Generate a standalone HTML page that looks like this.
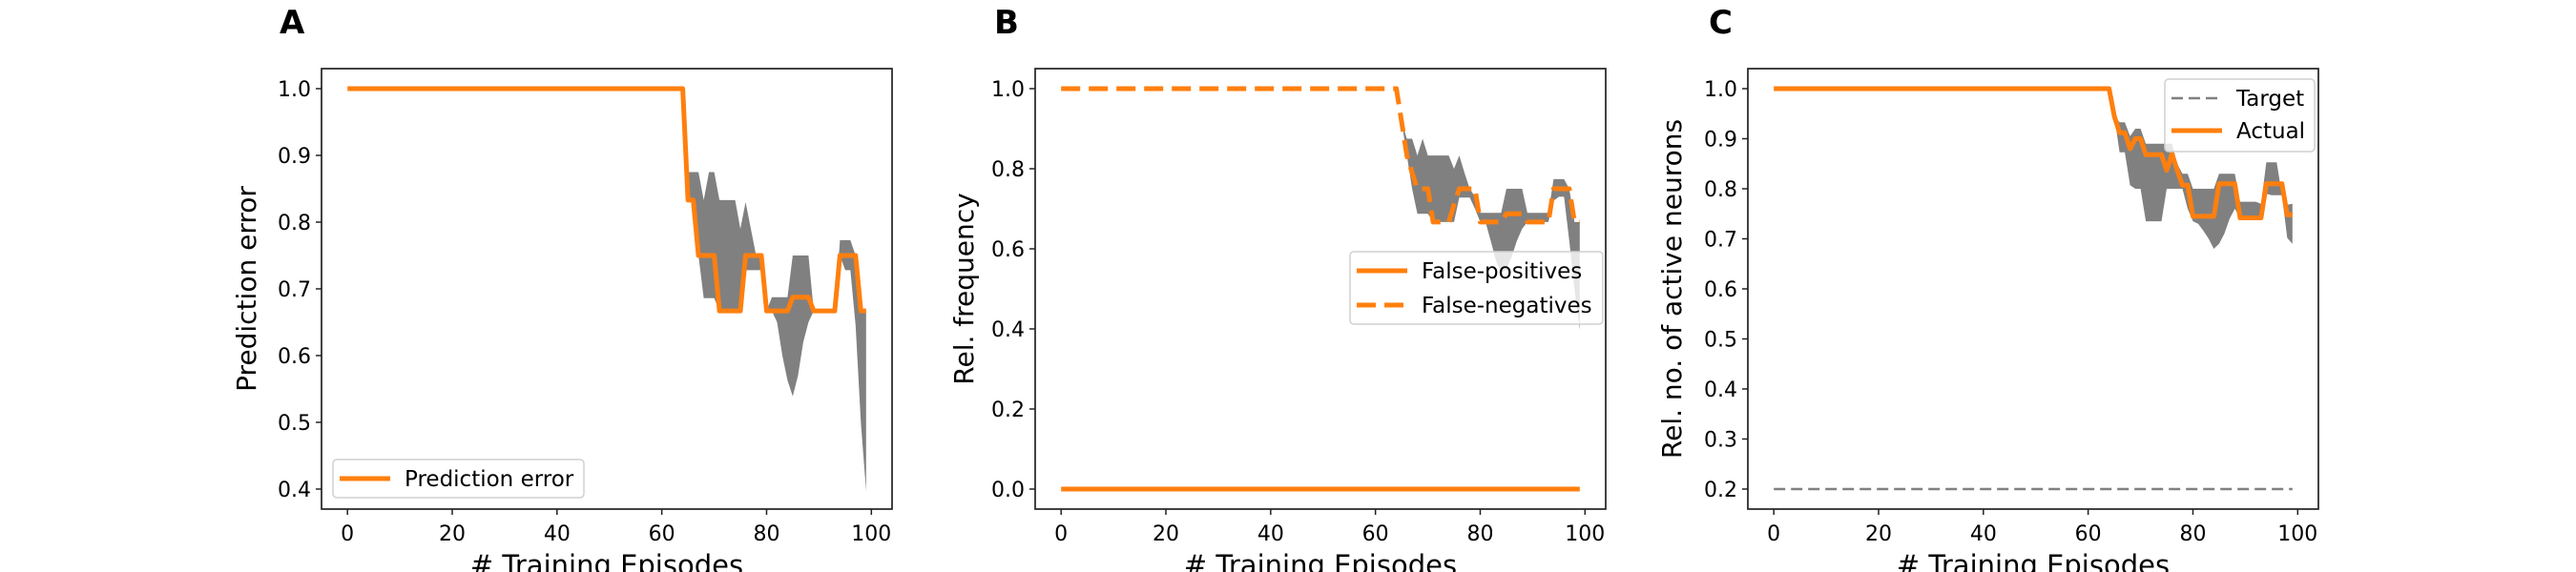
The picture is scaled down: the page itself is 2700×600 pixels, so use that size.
<!DOCTYPE html>
<html><head><meta charset="utf-8"><style>
html,body{margin:0;padding:0;background:#fff;}
svg{display:block;font-family:"DejaVu Sans","Liberation Sans",sans-serif;}
</style></head><body>
<svg id="fig" width="2700" height="600" viewBox="0 0 2700 600" xmlns="http://www.w3.org/2000/svg"></svg>
<script>
// ---- data ----
const episodes = Array.from({length:100},(_,i)=>i);
function pad(arr,v){ return Array(100-arr.length).fill(v).concat(arr); }
// Panel A (x 64..99 explicit, earlier = 1.0)
const predErrTail = [1,0.833,0.833,0.75,0.75,0.75,0.75,0.667,0.667,0.667,0.667,0.667,0.75,0.75,0.75,0.75,0.667,0.667,0.667,0.667,0.667,0.6875,0.6875,0.6875,0.6875,0.667,0.667,0.667,0.667,0.667,0.75,0.75,0.75,0.75,0.667,0.667];
const predUpTail  = [1,0.875,0.875,0.875,0.833,0.875,0.875,0.833,0.833,0.833,0.833,0.79,0.83,0.79,0.75,0.75,0.667,0.6875,0.6875,0.6875,0.6875,0.75,0.75,0.75,0.75,0.667,0.667,0.667,0.667,0.667,0.773,0.773,0.773,0.75,0.667,0.667];
const predLoTail  = [1,0.833,0.833,0.75,0.686,0.686,0.686,0.667,0.667,0.667,0.667,0.667,0.728,0.728,0.728,0.728,0.667,0.667,0.65,0.6,0.563,0.539,0.57,0.62,0.65,0.667,0.667,0.667,0.667,0.667,0.75,0.728,0.728,0.645,0.5,0.397];
// Panel B
const fpValues = Array(100).fill(0);
const fnTail   = [1,0.917,0.833,0.79,0.75,0.75,0.75,0.667,0.667,0.667,0.667,0.71,0.75,0.75,0.75,0.75,0.667,0.667,0.667,0.667,0.667,0.6875,0.6875,0.6875,0.6875,0.667,0.667,0.667,0.667,0.667,0.75,0.75,0.75,0.75,0.667,0.667];
const fnUpTail = [1,0.917,0.875,0.875,0.833,0.875,0.833,0.833,0.833,0.833,0.833,0.8,0.833,0.79,0.75,0.73,0.69,0.69,0.69,0.69,0.69,0.75,0.75,0.75,0.75,0.69,0.69,0.69,0.69,0.69,0.774,0.774,0.774,0.75,0.667,0.667];
const fnLoTail = [1,0.917,0.833,0.75,0.6875,0.6875,0.6875,0.667,0.667,0.667,0.667,0.667,0.728,0.728,0.728,0.7,0.667,0.667,0.62,0.57,0.54,0.55,0.58,0.62,0.65,0.667,0.667,0.667,0.667,0.667,0.72,0.73,0.73,0.62,0.5,0.398];
// Panel C
const targetValues = Array(100).fill(0.2);
const actTail  = [1,0.945,0.912,0.912,0.88,0.9,0.9,0.868,0.868,0.868,0.868,0.837,0.87,0.837,0.807,0.807,0.745,0.745,0.745,0.745,0.745,0.81,0.81,0.81,0.81,0.742,0.742,0.742,0.742,0.742,0.81,0.81,0.81,0.81,0.748,0.748];
const actUpTail= [1,0.945,0.933,0.933,0.905,0.92,0.92,0.89,0.89,0.89,0.89,0.89,0.89,0.85,0.83,0.83,0.8,0.8,0.8,0.8,0.8,0.83,0.83,0.83,0.83,0.774,0.774,0.774,0.774,0.77,0.853,0.853,0.853,0.787,0.768,0.77];
const actLoTail= [1,0.945,0.873,0.873,0.807,0.8,0.8,0.735,0.735,0.735,0.735,0.8,0.8,0.8,0.8,0.76,0.735,0.73,0.716,0.7,0.68,0.69,0.71,0.74,0.76,0.742,0.742,0.742,0.742,0.742,0.79,0.787,0.787,0.787,0.702,0.69];
const ticksA = [0.4,0.5,0.6,0.7,0.8,0.9,1.0];
const ticksB = [0.0,0.2,0.4,0.6,0.8,1.0];
const ticksC = [0.2,0.3,0.4,0.5,0.6,0.7,0.8,0.9,1.0];
const xTicks = [0,20,40,60,80,100];

const predErr=pad(predErrTail,1), predUp=pad(predUpTail,1), predLo=pad(predLoTail,1);
const fnVals=pad(fnTail,1), fnUp=pad(fnUpTail,1), fnLo=pad(fnLoTail,1);
const actVals=pad(actTail,1), actUp=pad(actUpTail,1), actLo=pad(actLoTail,1);

const NS="http://www.w3.org/2000/svg";
const svg=document.getElementById('fig');
function mk(tag,attrs,parent,text){const e=document.createElementNS(NS,tag);for(const k in attrs)e.setAttribute(k,attrs[k]);if(text!==undefined)e.textContent=text;(parent||svg).appendChild(e);return e;}

function panel(o){
  const g=mk('g',{});
  
  
  const T=72,B=534,W=598,L=o.L,H=B-T;
  const X=x=>L+(x+4.95)/108.9*W;
  const Y=v=>B-(v-o.ymin)/(o.ymax-o.ymin)*H;
  // fill band
  let d='';
  episodes.forEach((x,i)=>{d+=(i?'L':'M')+X(x).toFixed(1)+','+Y(o.up[i]).toFixed(1);});
  for(let i=episodes.length-1;i>=0;i--) d+='L'+X(episodes[i]).toFixed(1)+','+Y(o.lo[i]).toFixed(1);
  const band=mk('path',{d:d+'Z',fill:'#808080',stroke:'none'},g);
  
  
  o.series.forEach(s=>{
    const pts=episodes.map((x,i)=>X(x).toFixed(1)+','+Y(s.vals[i]).toFixed(1)).join(' ');
    const pl=mk('polyline',{points:pts,fill:'none',stroke:s.color,'stroke-width':s.w,'stroke-dasharray':s.dash||'none','stroke-linejoin':'round'},g);
    
    
  });
  const frame=mk('rect',{x:L,y:T,width:W,height:H,fill:'none',stroke:'#222','stroke-width':1.7},g);
  
  
  xTicks.forEach(t=>{
    const x=X(t);
    mk('line',{x1:x,y1:B,x2:x,y2:B+6,stroke:'#222','stroke-width':1.5},g);
    const tx=mk('text',{x:x,y:567,'font-size':22,'text-anchor':'middle',fill:'#000'},g,String(t));
    
    
  });
  o.ticks.forEach(t=>{
    const y=Y(t);
    mk('line',{x1:L-6,y1:y,x2:L,y2:y,stroke:'#222','stroke-width':1.5},g);
    const ty=mk('text',{x:L-11,y:y+8,'font-size':22,'text-anchor':'end',fill:'#000'},g,t.toFixed(1));
    
    
  });
  const xl=mk('text',{x:L+W/2,y:603,'font-size':29,'text-anchor':'middle',fill:'#000'},g,'# Training Episodes');
  
  
  const yx=o.ylx, yy=(T+B)/2;
  const yl=mk('text',{x:yx,y:yy,'font-size':28,'text-anchor':'middle',fill:'#000',transform:`rotate(-90 ${yx} ${yy})`},g,o.ylabel);
  
  
  const pt=mk('text',{x:o.tx,y:35,'font-size':34,'font-weight':'bold',fill:'#000'},g,o.title);
  
  
  // legend
  const lg=mk('g',{},g);
  
  
  const lb=o.legend;
  mk('rect',{x:lb.x,y:lb.y,width:lb.w,height:lb.h,rx:4,fill:'#fff','fill-opacity':0.8,stroke:'#d0d0d0','stroke-width':1.5},lg);
  lb.items.forEach((it,k)=>{
    const cy=lb.y+lb.first+k*lb.step;
    mk('line',{x1:lb.x+7,y1:cy,x2:lb.x+60,y2:cy,stroke:it.color,'stroke-width':it.w,'stroke-dasharray':it.dash||'none'},lg);
    const et=mk('text',{x:lb.x+75,y:cy+8,'font-size':23,fill:'#000'},lg,it.label);
    
    
  });
}
const OR='#ff7f0e';
panel({name:'panel-a',L:337,ymin:0.37,ymax:1.03,ticks:ticksA,up:predUp,lo:predLo,title:'A',tx:293,ylx:268,ylabel:'Prediction error',
  series:[{name:'prediction-error-line',vals:predErr,color:OR,w:5}],
  legend:{x:349,y:482,w:263,h:40,first:20,step:0,items:[{label:'Prediction error',color:OR,w:5}]}});
panel({name:'panel-b',L:1085,ymin:-0.05,ymax:1.05,ticks:ticksB,up:fnUp,lo:fnLo,title:'B',tx:1042,ylx:1020,ylabel:'Rel. frequency',
  series:[{name:'false-positives-line',vals:fpValues,color:OR,w:5},{name:'false-negatives-line',vals:fnVals,color:OR,w:5,dash:'20,9'}],
  legend:{x:1415,y:264,w:265,h:76,first:20,step:36,items:[{label:'False-positives',color:OR,w:5},{label:'False-negatives',color:OR,w:5,dash:'20,9'}]}});
panel({name:'panel-c',L:1832,ymin:0.16,ymax:1.04,ticks:ticksC,up:actUp,lo:actLo,title:'C',tx:1791,ylx:1762,ylabel:'Rel. no. of active neurons',
  series:[{name:'target-line',vals:targetValues,color:'#808080',w:2.6,dash:'12,6'},{name:'actual-line',vals:actVals,color:OR,w:5}],
  legend:{x:2269,y:83,w:157,h:76,first:20,step:34,items:[{label:'Target',color:'#808080',w:2.6,dash:'12,6'},{label:'Actual',color:OR,w:5}]}});
</script>
</body></html>
